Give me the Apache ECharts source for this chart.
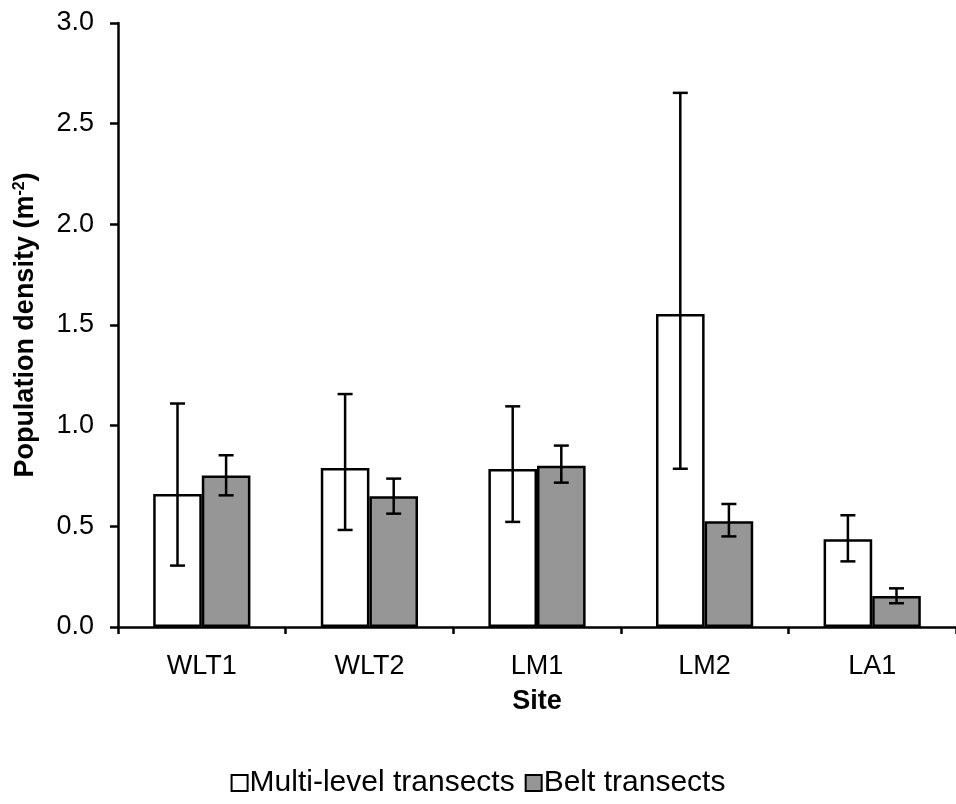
<!DOCTYPE html>
<html>
<head>
<meta charset="utf-8">
<title>Population density by site</title>
<script src="https://cdn.jsdelivr.net/npm/echarts@6/dist/echarts.min.js"></script>
<style>
  html, body { margin: 0; padding: 0; background: #fff; }
  #chart { width: 956px; height: 804px; }
</style>
</head>
<body>
<div id="chart"></div>
<script>
// Sites sampled
const categories = ['WLT1', 'WLT2', 'LM1', 'LM2', 'LA1'];

// Multi-level transects: mean density and error-bar limits (m^-2)
const multiMean = [0.66, 0.79, 0.785, 1.555, 0.436];
const multiLow  = [0.305, 0.482, 0.522, 0.786, 0.326];
const multiHigh = [1.11, 1.157, 1.096, 2.653, 0.555];

// Belt transects: mean density and error-bar limits (m^-2)
const beltMean = [0.753, 0.649, 0.801, 0.525, 0.154];
const beltLow  = [0.654, 0.563, 0.717, 0.45, 0.118];
const beltHigh = [0.853, 0.737, 0.901, 0.611, 0.192];

// y-axis ticks
const yMin = 0, yMax = 3, yStep = 0.5;

const FONT = 'Arial, "Liberation Sans", sans-serif';
const FS = 27;          // text size
const CAT_GAP = 0.42;   // fraction of a category left empty
const CAP = 15;         // error-bar cap width (px)
const LW = 2.5;         // stroke width of axes, borders and error bars

function errorSeries(name, low, high, side) {
  return {
    type: 'custom',
    name: name,
    z: 5,
    silent: true,
    data: categories.map((c, i) => [i, low[i], high[i]]),
    encode: { x: 0, y: [1, 2] },
    renderItem: function (params, api) {
      const catW = api.size([1, 0])[0];
      const barW = catW * (1 - CAT_GAP) / 2;
      const lo = api.coord([api.value(0), api.value(1)]);
      const hi = api.coord([api.value(0), api.value(2)]);
      const x = lo[0] + side * barW / 2;
      const style = { stroke: '#000', lineWidth: LW };
      return {
        type: 'group',
        children: [
          { type: 'line', shape: { x1: x, y1: lo[1], x2: x, y2: hi[1] }, style: style },
          { type: 'line', shape: { x1: x - CAP / 2, y1: lo[1], x2: x + CAP / 2, y2: lo[1] }, style: style },
          { type: 'line', shape: { x1: x - CAP / 2, y1: hi[1], x2: x + CAP / 2, y2: hi[1] }, style: style }
        ]
      };
    }
  };
}

const chart = echarts.init(document.getElementById('chart'), null, { renderer: 'canvas' });

chart.setOption({
  animation: false,
  backgroundColor: '#fff',
  textStyle: { fontFamily: FONT, color: '#000' },
  grid: { left: 118, top: 23, right: -5, bottom: 177, containLabel: false },
  legend: {
    data: ['Multi-level transects', 'Belt transects'],
    bottom: 1,
    left: 'center',
    icon: 'rect',
    itemWidth: 16,
    itemHeight: 16,
    itemGap: 10,
    textStyle: { fontFamily: FONT, fontSize: 30, color: '#000', padding: [0, 0, 0, -3] }
  },
  xAxis: {
    type: 'category',
    data: categories,
    boundaryGap: true,
    name: 'Site',
    nameLocation: 'middle',
    nameGap: 61,
    nameMoveOverlap: false,
    nameTextStyle: { fontFamily: FONT, fontSize: FS, fontWeight: 'bold', color: '#000' },
    axisLine: { lineStyle: { color: '#000', width: LW } },
    axisTick: { show: true, length: 7, lineStyle: { color: '#000', width: LW } },
    axisLabel: { fontFamily: FONT, fontSize: FS, color: '#000', margin: 26 },
    splitLine: { show: false }
  },
  yAxis: {
    type: 'value',
    min: yMin,
    max: yMax,
    interval: yStep,
    name: '{a|Population density (m}{s|-2}{a|)}',
    nameLocation: 'middle',
    nameGap: 78,
    nameMoveOverlap: false,
    nameTextStyle: {
      rich: {
        a: { fontFamily: FONT, fontSize: FS, fontWeight: 'bold', color: '#000' },
        s: { fontFamily: FONT, fontSize: 16, fontWeight: 'bold', color: '#000', padding: [0, 0, 12, 0] }
      }
    },
    axisLine: { show: true, lineStyle: { color: '#000', width: LW } },
    axisTick: { show: true, length: 8, lineStyle: { color: '#000', width: LW } },
    axisLabel: {
      fontFamily: FONT, fontSize: FS, color: '#000', margin: 24,
      formatter: v => v.toFixed(1)
    },
    splitLine: { show: false }
  },
  series: [
    {
      name: 'Multi-level transects',
      type: 'bar',
      data: multiMean,
      barGap: '0%',
      barCategoryGap: (CAT_GAP * 100) + '%',
      itemStyle: { color: '#ffffff', borderColor: '#000', borderWidth: LW }
    },
    {
      name: 'Belt transects',
      type: 'bar',
      data: beltMean,
      barGap: '0%',
      barCategoryGap: (CAT_GAP * 100) + '%',
      itemStyle: { color: '#969696', borderColor: '#000', borderWidth: LW }
    },
    errorSeries('err-multi', multiLow, multiHigh, -1),
    errorSeries('err-belt', beltLow, beltHigh, 1)
  ]
});
</script>
</body>
</html>
